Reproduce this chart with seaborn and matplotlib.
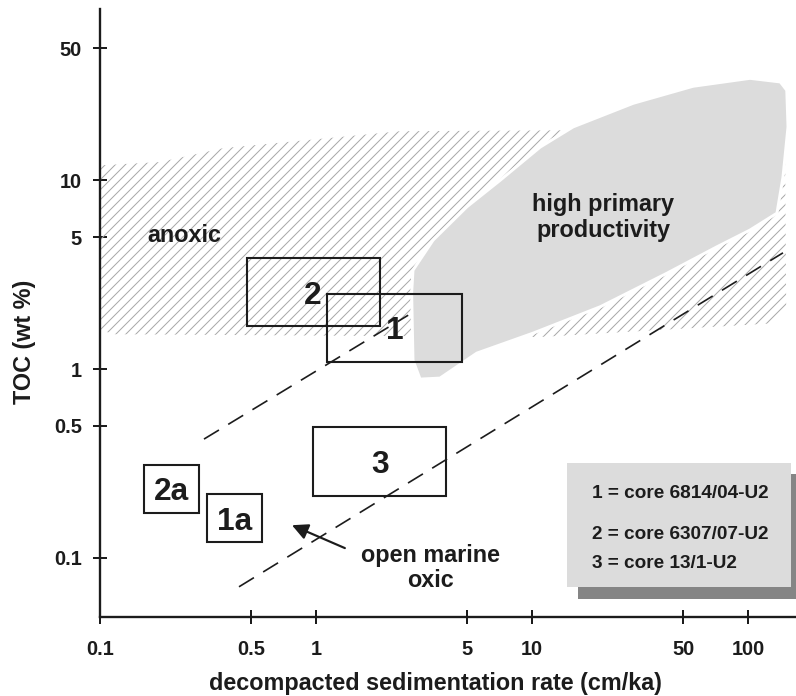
import matplotlib
matplotlib.use("Agg")
import matplotlib.pyplot as plt
from matplotlib.patches import Polygon, Rectangle
import numpy as np
import pandas as pd
import seaborn as sns

# ---------------- data ----------------
x_ticks = [0.1, 0.5, 1, 5, 10, 50, 100]
x_tick_labels = ["0.1", "0.5", "1", "5", "10", "50", "100"]
y_ticks = [0.1, 0.5, 1, 5, 10, 50]
y_tick_labels = ["0.1", "0.5", "1", "5", "10", "50"]

box_names = ["2", "1", "3", "2a", "1a"]
box_rate_min = [0.477, 1.13, 0.964, 0.160, 0.313]
box_rate_max = [1.98, 4.73, 4.00, 0.288, 0.562]
box_toc_min = [1.70, 1.09, 0.214, 0.173, 0.121]
box_toc_max = [3.90, 2.50, 0.493, 0.310, 0.217]
label_rate = [0.968, 2.32, 1.98, 0.215, 0.422]
label_toc = [2.45, 1.59, 0.311, 0.223, 0.1547]

# hatched "anoxic" field outline
anoxic_rate = [0.1, 0.19, 0.371, 2.45, 13.5, 148, 150, 133, 10.9, 0.117, 0.1]
anoxic_toc = [12.0, 12.5, 14.8, 18.2, 18.4, 19.6, 2.18, 1.75, 1.48, 1.53, 1.61]

# grey "high primary productivity" field outline
prod_rate = [2.81, 3.48, 4.99, 7.11, 10.9, 15.5, 29.4, 55.6, 102, 141, 151, 153,
             145, 136, 102, 71.6, 42.1, 20.7, 10.1, 5.55, 3.75, 3.03, 2.81, 2.77]
prod_toc = [3.34, 4.82, 7.24, 10.0, 15.0, 19.2, 25.6, 31.5, 34.7, 33.2, 30.0, 19.2,
            10.4, 6.7, 5.45, 4.44, 3.22, 2.14, 1.55, 1.215, 0.896, 0.885, 1.116, 2.53]

# dashed boundary lines
upper_rate = [0.303, 2.67]
upper_toc = [0.426, 1.93]
lower_rate = [0.44, 145]
lower_toc = [0.0703, 4.13]

legend_lines = ["1 = core 6814/04-U2", "2 = core 6307/07-U2", "3 = core 13/1-U2"]

# ---------------- style ----------------
DPI = 120
sns.set_theme(style="white")
plt.rcParams["font.family"] = ["Liberation Sans", "DejaVu Sans"]
plt.rcParams["font.weight"] = "bold"
plt.rcParams["axes.labelweight"] = "bold"
plt.rcParams["hatch.linewidth"] = 0.6
INK = "#1c1c1c"

fig = plt.figure(figsize=(796 / DPI, 696 / DPI), dpi=DPI)
ax = fig.add_axes([0.1256, 0.1139, 0.874, 0.873])
ax.set_xscale("log")
ax.set_yscale("log")
ax.set_xlim(0.1, 166)
ax.set_ylim(0.0488, 80.7)

# fields
ax.add_patch(Polygon(np.column_stack([anoxic_rate, anoxic_toc]), closed=True,
                     fill=False, hatch="////", edgecolor="#a8a8a8", lw=0, zorder=1))
ax.add_patch(Polygon(np.column_stack([prod_rate, prod_toc]), closed=True,
                     facecolor="#dcdcdc", edgecolor="white", lw=1.8, zorder=2,
                     joinstyle="round"))

# dashed lines
for xs, ys in [(upper_rate, upper_toc), (lower_rate, lower_toc)]:
    df = pd.DataFrame({"rate": xs, "toc": ys})
    sns.lineplot(data=df, x="rate", y="toc", ax=ax, color=INK, lw=1.0,
                 estimator=None, sort=False, legend=False, zorder=3)
    ax.lines[-1].set_dashes([10.5, 6.5])

# boxes
for name, x0, x1, y0, y1, lx, ly in zip(box_names, box_rate_min, box_rate_max,
                                         box_toc_min, box_toc_max, label_rate, label_toc):
    ax.add_patch(Rectangle((x0, y0), x1 - x0, y1 - y0, fill=False,
                           edgecolor=INK, lw=1.25, zorder=4))
    ax.text(lx, ly, name, ha="center", va="center", fontsize=19,
            fontweight="bold", color=INK, zorder=5)

# field labels
ax.text(0.245, 5.13, "anoxic", ha="center", va="center", fontsize=14,
        fontweight="bold", color=INK, zorder=5)
ax.text(21.3, 6.38, "high primary\nproductivity", ha="center", va="center",
        fontsize=14, fontweight="bold", color=INK, linespacing=1.15, zorder=5)
ax.text(3.40, 0.0883, "open marine\noxic", ha="center", va="center",
        fontsize=14, fontweight="bold", color=INK, linespacing=1.1, zorder=5)
ax.annotate("", xy=(0.774, 0.149), xytext=(1.36, 0.1127),
            arrowprops=dict(arrowstyle="-|>", lw=1.3, color=INK,
                            mutation_scale=20, shrinkA=0, shrinkB=0), zorder=5)

# legend box with shadow
ax.add_patch(Rectangle((0.6873, 0.0295), 0.322, 0.205, transform=ax.transAxes,
                       facecolor="#858585", edgecolor="none", clip_on=False, zorder=6))
ax.add_patch(Rectangle((0.6708, 0.0484), 0.322, 0.205, transform=ax.transAxes,
                       facecolor="#dcdcdc", edgecolor="none", clip_on=False, zorder=7))
for txt, yy in zip(legend_lines, [0.2024, 0.1349, 0.0872]):
    ax.text(0.7067, yy, txt, transform=ax.transAxes, ha="left", va="center",
            fontsize=11.4, fontweight="bold", color=INK, zorder=8)

# axes
for s in ["top", "right"]:
    ax.spines[s].set_visible(False)
for s in ["left", "bottom"]:
    ax.spines[s].set_linewidth(1.4)
    ax.spines[s].set_color(INK)
ax.set_xticks(x_ticks)
ax.set_xticklabels(x_tick_labels)
ax.set_yticks(y_ticks)
ax.set_yticklabels(y_tick_labels)
ax.minorticks_off()
ax.tick_params(axis="both", which="major", direction="inout", length=8.4,
               width=1.2, color=INK, labelsize=12, labelcolor=INK,
               bottom=True, left=True, top=False, right=False)
ax.tick_params(axis="x", pad=9.5)
ax.tick_params(axis="y", pad=6.8)
for lab in ax.get_xticklabels() + ax.get_yticklabels():
    lab.set_fontweight("bold")
ax.grid(False)

ax.set_xlabel("decompacted sedimentation rate (cm/ka)", fontsize=14,
              fontweight="bold", color=INK)
ax.set_ylabel("TOC (wt %)", fontsize=14, fontweight="bold", color=INK)
ax.xaxis.set_label_coords(0.4815, -0.1107)
ax.xaxis.label.set_va("center")
ax.yaxis.set_label_coords(-0.1078, 0.4529)
ax.yaxis.label.set_va("center")

fig.savefig("out.png", dpi=DPI)
